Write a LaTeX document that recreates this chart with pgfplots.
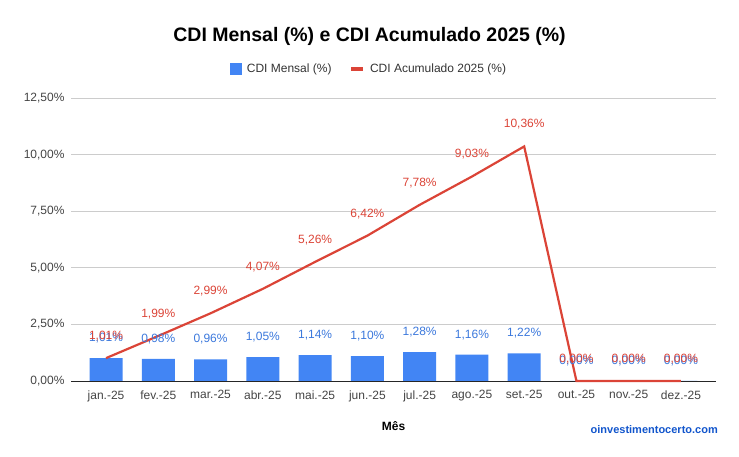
\documentclass[border=0pt]{standalone}
\usepackage{pgfplots}
\pgfplotsset{compat=1.18}
\usepackage{fontspec}
\setmainfont{Liberation Sans}
\definecolor{gblue}{HTML}{4285F4}
\definecolor{gred}{HTML}{DB4437}
\definecolor{wm}{HTML}{1155CC}
\definecolor{tick}{HTML}{444444}
\begin{document}
\begin{tikzpicture}[x=1bp,y=1bp]
\useasboundingbox (0,0) rectangle (739,457);
\begin{axis}[
  at={(71bp,76bp)}, anchor=south west,
  scale only axis, width=645bp, height=283bp,
  xmin=-0.67, xmax=11.67, ymin=0, ymax=12.5,
  axis x line=bottom, axis y line=left,
  y axis line style={draw=none},
  x axis line style={-, draw=black!85, line width=0.8bp},
  major tick length=0pt,
  ytick={0,2.5,5,7.5,10,12.5},
  yticklabels={{0,00\%},{2,50\%},{5,00\%},{7,50\%},{10,00\%},{12,50\%}},
  xtick={0,1,2,3,4,5,6,7,8,9,10,11},
  xticklabels={jan.-25,fev.-25,mar.-25,abr.-25,mai.-25,jun.-25,jul.-25,ago.-25,set.-25,out.-25,nov.-25,dez.-25},
  ymajorgrids, grid style={black!20, line width=0.6bp},
  tick label style={font=\fontsize{12bp}{14bp}\selectfont, text=tick},
  yticklabel style={xshift=-3bp},
  xticklabel style={yshift=-6bp},
  xlabel={Mês},
  xlabel style={font=\bfseries\fontsize{12bp}{14bp}\selectfont, at={(axis description cs:0.5,0)}, anchor=center, yshift=-45bp},
  legend style={at={(axis description cs:0.462,1.1025)}, anchor=center, draw=none, fill=none,
    legend columns=2, font=\fontsize{12bp}{14bp}\selectfont, text=black!80,
    /tikz/every odd column/.append style={column sep=3bp},
    /tikz/every even column/.append style={column sep=16bp}},
  clip=false,
]
\addplot[ybar, bar width=33bp, fill=gblue, draw=none,
  nodes near coords={\pgfmathprintnumber[fixed,fixed zerofill,precision=2,use comma,assume math mode=true]{\pgfplotspointmeta}\%},
  every node near coord/.append style={font=\fontsize{12bp}{14bp}\selectfont, text=gblue!90!black, anchor=center, yshift=20bp},
  legend image code/.code={\fill[gblue] (0bp,-6bp) rectangle (12bp,6bp);}]
  coordinates {(0,1.01) (1,0.98) (2,0.96) (3,1.05) (4,1.14) (5,1.10) (6,1.28) (7,1.16) (8,1.22) (9,0) (10,0) (11,0)};
\addlegendentry{CDI Mensal (\%)}
\addplot[sharp plot, draw=gred, line width=2.2bp, mark=none,
  nodes near coords={\pgfmathprintnumber[fixed,fixed zerofill,precision=2,use comma,assume math mode=true]{\pgfplotspointmeta}\%},
  every node near coord/.append style={font=\fontsize{12bp}{14bp}\selectfont, text=gred, anchor=center, yshift=22bp},
  legend image code/.code={\draw[gred, line width=3.5bp] (0bp,0bp) -- (12bp,0bp);}]
  coordinates {(0,1.01) (1,1.99) (2,2.99) (3,4.07) (4,5.26) (5,6.42) (6,7.78) (7,9.03) (8,10.36) (9,0) (10,0) (11,0)};
\addlegendentry{CDI Acumulado 2025 (\%)}
\end{axis}
\node[font=\bfseries\fontsize{19.5bp}{22bp}\selectfont] at (369.5,421) {CDI Mensal (\%) e CDI Acumulado 2025 (\%)};
\node[anchor=east, font=\bfseries\fontsize{11bp}{13bp}\selectfont, text=wm, inner sep=0pt] at (718,27) {oinvestimentocerto.com};
\end{tikzpicture}
\end{document}
